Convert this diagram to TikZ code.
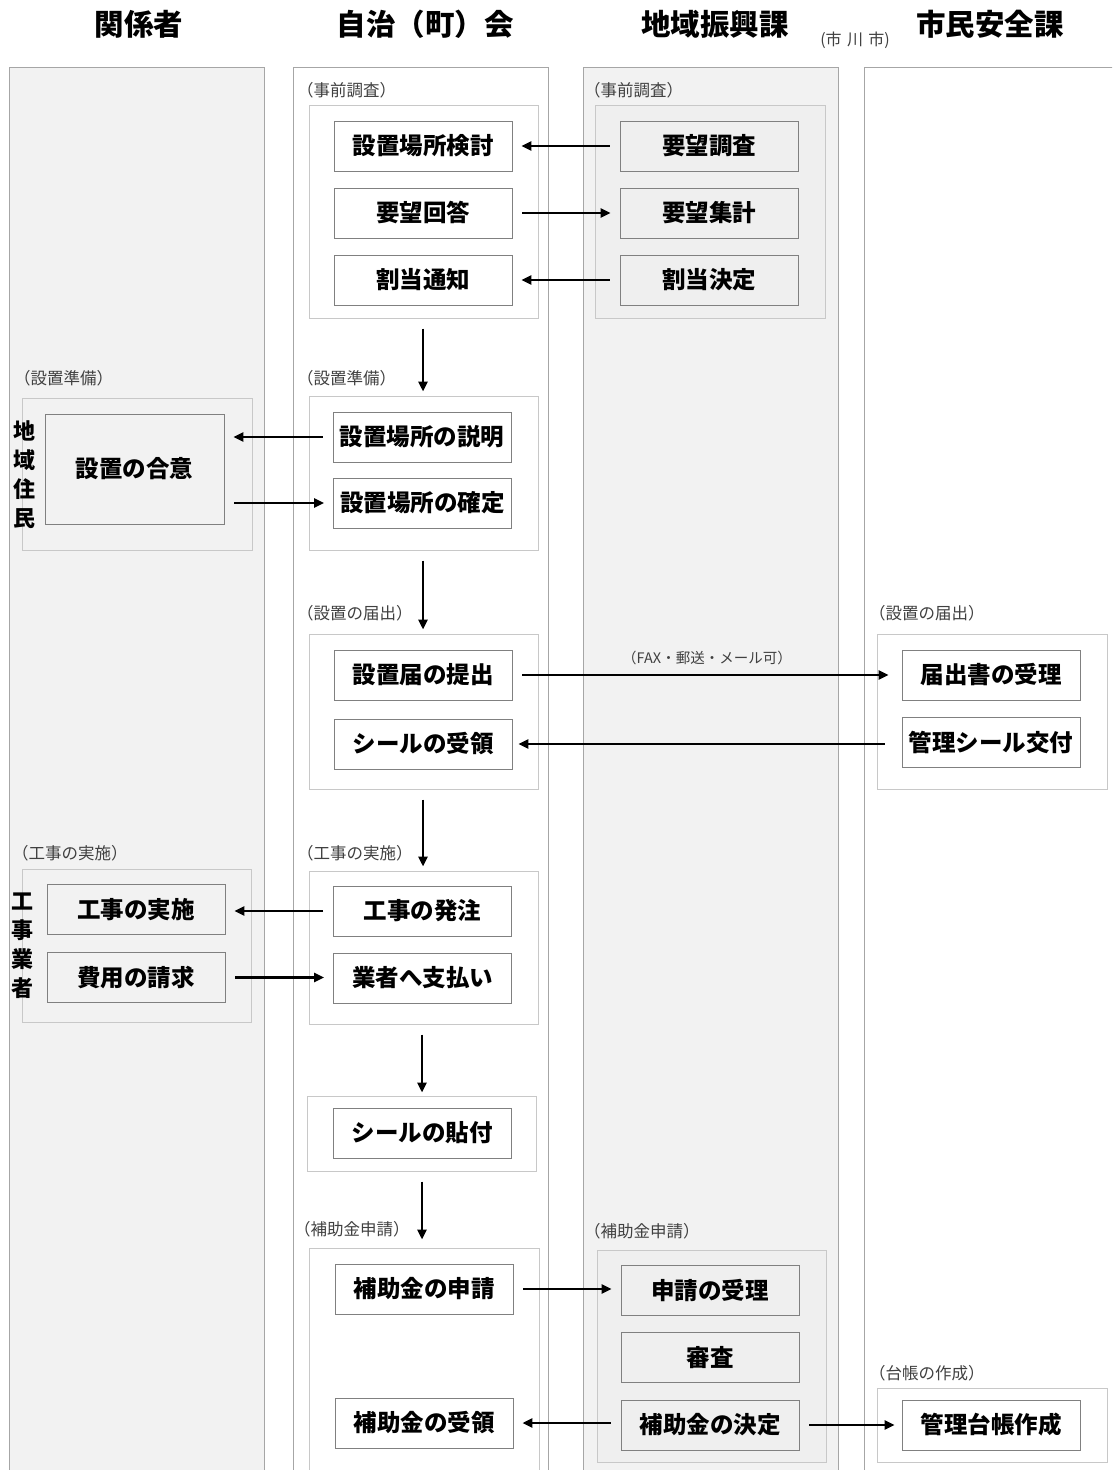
\documentclass[tikz,border=0pt]{standalone}
\usepackage{fontspec}
\setmainfont{Noto Sans CJK JP}
\usetikzlibrary{arrows.meta}
\definecolor{lanefill}{HTML}{F2F2F2}
\definecolor{laneline}{HTML}{A6A6A6}
\definecolor{grpline}{HTML}{C8C8C8}
\definecolor{grpfill}{HTML}{EFEFEF}
\definecolor{boxline}{HTML}{808080}
\definecolor{lbltext}{HTML}{404040}
\tikzset{
  lane/.style={draw=laneline, line width=1pt},
  grpbox/.style={draw=grpline, line width=1pt, inner sep=0pt, minimum width=229pt},
  stepnode/.style={draw=boxline, line width=0.9pt, inner sep=0pt, minimum width=178pt, minimum height=50pt,
     font=\bfseries\fontsize{23.5}{25}\selectfont},
  lbl/.style={anchor=west, inner sep=0pt, text=lbltext, font=\fontsize{16.5}{18}\selectfont},
  hdr/.style={inner sep=0pt, font=\bfseries\fontsize{29.5}{32}\selectfont},
  vlbl/.style={inner sep=0pt, align=center, font=\bfseries\fontsize{22}{29}\selectfont},
  arr/.style={line width=2.5pt, -{Triangle[length=10pt,width=9pt]}, shorten <=10pt, shorten >=9pt},
  varr/.style={line width=2.5pt, -{Triangle[length=10pt,width=9pt]}, shorten <=10pt, shorten >=4pt},
}
\begin{document}
\begin{tikzpicture}[x=1pt,y=-1pt]
\useasboundingbox[fill=white] (0,0) rectangle (1112,1470);
\begin{scope}
\clip (0,0) rectangle (1112,1470);
% lanes
\draw[lane, fill=lanefill] (9,67) rectangle (264,1480);
\draw[lane, fill=white] (293,67) rectangle (548,1480);
\draw[lane, fill=lanefill] (583,67) rectangle (838,1480);
\draw[lane, fill=white] (864,67) rectangle (1130,1480);

% headers
\node[hdr] (h1) at (139,24) {関係者};
\node[hdr] (h2) at (425,24) {自治（町）会};
\node[hdr] (h3) at (715,24) {地域振興課};
\node[hdr] (h4) at (990,24) {市民安全課};
\node[inner sep=0pt, text=lbltext, font=\fontsize{16}{18}\selectfont] (city) at (855,40) {(市\,\,川\,\,市)};

% groups lane 2
\node[grpbox, fill=white, minimum height=213pt] (gA) at (423.5,211.5) {};
\node[grpbox, fill=white, minimum height=154pt] (gB) at (423.5,473) {};
\node[grpbox, fill=white, minimum height=155pt] (gC) at (423.5,711.5) {};
\node[grpbox, fill=white, minimum height=153pt] (gD) at (423.5,947.5) {};
\node[grpbox, fill=white, minimum height=75pt] (gE) at (421.5,1133.5) {};
\node[grpbox, fill=white, minimum width=230pt, minimum height=227pt] (gF) at (424,1361.5) {};
% groups lane 3
\node[grpbox, fill=grpfill, minimum width=230pt, minimum height=213pt] (hA) at (710,211.5) {};
\node[grpbox, fill=grpfill, minimum height=212pt] (hF) at (711.5,1356) {};
% groups lane 1
\node[grpbox, fill=lanefill, minimum width=230pt, minimum height=152pt] (kB) at (137,474) {};
\node[grpbox, fill=lanefill, minimum height=153pt] (kD) at (136.5,945.5) {};
% groups lane 4
\node[grpbox, fill=white, minimum width=230pt, minimum height=155pt] (mC) at (992,711.5) {};
\node[grpbox, fill=white, minimum width=230pt, minimum height=74pt] (mF) at (992,1425) {};

% group labels
\node[lbl] (lA) at (297,90) {（事前調査）};
\node[lbl] (lA3) at (584,90) {（事前調査）};
\node[lbl] (lB) at (297,378) {（設置準備）};
\node[lbl] (lB1) at (14,378) {（設置準備）};
\node[lbl] (lC) at (297,613) {（設置の届出）};
\node[lbl] (lC4) at (869,613) {（設置の届出）};
\node[lbl] (lD) at (297,853) {（工事の実施）};
\node[lbl] (lD1) at (12,853) {（工事の実施）};
\node[lbl] (lF) at (294,1229) {（補助金申請）};
\node[lbl] (lF3) at (584,1231) {（補助金申請）};
\node[lbl] (lF4) at (869,1373) {（台帳の作成）};

% boxes lane 2
\node[stepnode, fill=white] (a1) at (423,146) {設置場所検討};
\node[stepnode, fill=white] (a2) at (423,213) {要望回答};
\node[stepnode, fill=white] (a3) at (423,280) {割当通知};
\node[stepnode, fill=white] (b1) at (422,437) {設置場所の説明};
\node[stepnode, fill=white] (b2) at (422.5,503) {設置場所の確定};
\node[stepnode, fill=white] (c1) at (423,675) {設置届の提出};
\node[stepnode, fill=white] (c2) at (423,744) {シールの受領};
\node[stepnode, fill=white] (d1) at (422.5,911) {工事の発注};
\node[stepnode, fill=white] (d2) at (422.5,978) {業者へ支払い};
\node[stepnode, fill=white] (e1) at (422,1133) {シールの貼付};
\node[stepnode, fill=white] (f1) at (424,1289) {補助金の申請};
\node[stepnode, fill=white] (f2) at (424,1423) {補助金の受領};
% boxes lane 3
\node[stepnode, fill=grpfill] (p1) at (709,146) {要望調査};
\node[stepnode, fill=grpfill] (p2) at (709,213) {要望集計};
\node[stepnode, fill=grpfill] (p3) at (709,280) {割当決定};
\node[stepnode, fill=grpfill] (q1) at (710,1290.5) {申請の受理};
\node[stepnode, fill=grpfill] (q2) at (710,1357.5) {審査};
\node[stepnode, fill=grpfill] (q3) at (710,1425) {補助金の決定};
% boxes lane 1
\node[stepnode, fill=lanefill, minimum width=179pt, minimum height=110pt] (agree) at (134.5,469) {設置の合意};
\node[stepnode, fill=lanefill] (k1) at (136,909.5) {工事の実施};
\node[stepnode, fill=lanefill] (k2) at (136,977.5) {費用の請求};
% boxes lane 4
\node[stepnode, fill=white] (r1) at (991,675) {届出書の受理};
\node[stepnode, fill=white] (r2) at (991,742) {管理シール交付};
\node[stepnode, fill=white] (t1) at (991,1425) {管理台帳作成};

% vertical labels
\node[vlbl] (v1) at (24,475) {地\\域\\住\\民};
\node[vlbl] (v2) at (22,946) {工\\事\\業\\者};

% horizontal arrows
\draw[arr] (p1) -- (a1);
\draw[arr] (a2) -- (p2);
\draw[arr] (p3) -- (a3);
\draw[arr] (b1.west) -- (agree.east |- b1.west);
\draw[arr] (agree.east |- b2.west) -- (b2.west);
\draw[arr, shorten >=13pt] (c1) -- node[above=9pt, inner sep=0pt, text=lbltext, font=\fontsize{14.5}{16}\selectfont] {（FAX・郵送・メール可）} (r1);
\draw[arr, shorten <=17pt, shorten >=6pt] (r2.west |- c2.east) -- (c2.east);
\draw[arr] (d1.west) -- (k1.east |- d1.west);
\draw[arr] (k2.east) -- (d2.west |- k2.east);
\draw[arr] (f1.east) -- (q1.west |- f1.east);
\draw[arr] (q3.west |- f2.east) -- (f2.east);
\draw[arr, shorten >=7pt] (q3) -- (t1);

% vertical arrows
\draw[varr] (gA.south -| a1) -- (gB.north -| a1);
\draw[varr] (gB.south -| a1) -- (gC.north -| a1);
\draw[varr] (gC.south -| a1) -- (gD.north -| a1);
\draw[varr, shorten >=3pt] (gD.south -| e1) -- (gE.north -| e1);
\draw[varr, shorten >=8pt] (gE.south -| e1) -- (gF.north -| e1);
\end{scope}
\end{tikzpicture}
\end{document}
